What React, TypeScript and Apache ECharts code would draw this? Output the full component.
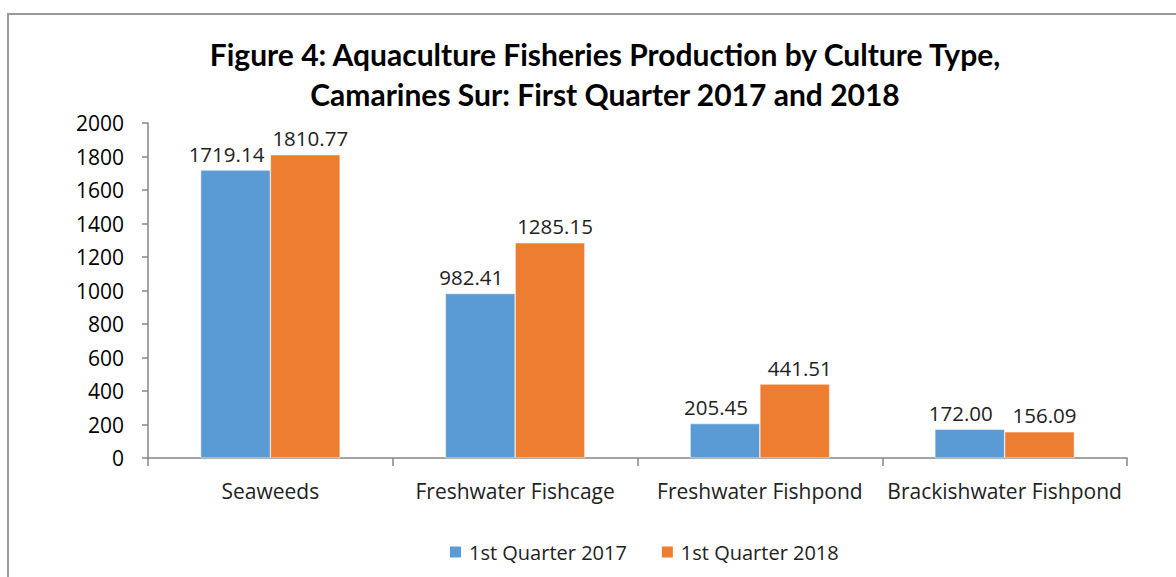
import React, { useEffect, useRef } from "react";
import * as echarts from "echarts";

const categories = ["Seaweeds", "Freshwater Fishcage", "Freshwater Fishpond", "Brackishwater Fishpond"];
const q2017 = [1719.14, 982.41, 205.45, 172.0];
const q2018 = [1810.77, 1285.15, 441.51, 156.09];
const seriesNames = ["1st Quarter 2017", "1st Quarter 2018"];
const titleLines = [
  "Figure 4: Aquaculture Fisheries Production by Culture Type,",
  "Camarines Sur: First Quarter 2017 and 2018",
];

const FONT = "'Open Sans', sans-serif";
const TITLE_FONT = "Lato, sans-serif";

export default function App() {
  const ref = useRef<HTMLDivElement>(null);
  useEffect(() => {
    if (!ref.current) return;
    const chart = echarts.init(ref.current, null, { renderer: "svg" });
    const label = {
      show: true,
      position: "top",
      distance: 6,
      color: "#222",
      fontSize: 20.5,
      fontFamily: FONT,
      formatter: (p: any) => Number(p.value).toFixed(2),
    };
    chart.setOption({
      animation: false,
      backgroundColor: "#fff",
      title: {
        text: titleLines.join("\n"),
        left: 600,
        textAlign: "center",
        top: 29,
        textStyle: {
          fontFamily: TITLE_FONT,
          fontWeight: "bold",
          fontSize: 30,
          lineHeight: 40,
          color: "#000",
        },
      },
      graphic: [
        {
          type: "rect",
          shape: { x: 8, y: 14, width: 1200, height: 600 },
          style: { fill: "none", stroke: "#9a9a9a", lineWidth: 2 },
          silent: true,
        },
      ],
      legend: {
        data: seriesNames,
        left: 443,
        top: 537,
        itemWidth: 13,
        itemHeight: 13,
        itemGap: 33,
        icon: "rect",
        textStyle: { fontFamily: FONT, fontSize: 20, color: "#222", padding: [0, 0, 0, 2] },
      },
      grid: { left: 148, right: 49, top: 123, bottom: 119, containLabel: false },
      xAxis: {
        type: "category",
        data: categories,
        axisLine: { lineStyle: { color: "#868686", width: 1.5 } },
        axisTick: { show: true, length: 8, alignWithLabel: false, lineStyle: { color: "#868686", width: 1.5 } },
        axisLabel: { fontFamily: FONT, fontSize: 21, color: "#222", margin: 22, interval: 0 },
      },
      yAxis: {
        type: "value",
        min: 0,
        max: 2000,
        interval: 200,
        splitLine: { show: false },
        axisLine: { show: true, lineStyle: { color: "#868686", width: 1.5 } },
        axisTick: { show: true, length: 6, lineStyle: { color: "#868686", width: 1.5 } },
        axisLabel: { fontFamily: FONT, fontSize: 21, color: "#000", margin: 24, formatter: (v: number) => String(v) },
      },
      series: [
        {
          name: seriesNames[0],
          type: "bar",
          data: q2017,
          barGap: "0%",
          barCategoryGap: "43%",
          itemStyle: { color: "#5B9BD5", borderColor: "#fff", borderWidth: 0.5 },
          label: { ...label, offset: [-9, 0] },
        },
        {
          name: seriesNames[1],
          type: "bar",
          data: q2018,
          barGap: "0%",
          barCategoryGap: "43%",
          itemStyle: { color: "#ED7D31", borderColor: "#fff", borderWidth: 0.5 },
          label: { ...label, offset: [5, 0] },
        },
      ],
    });
    return () => chart.dispose();
  }, []);
  return (
    <div
      ref={ref}
      style={{ position: "absolute", left: 0, top: 0, width: 1176, height: 577 }}
    />
  );
}
